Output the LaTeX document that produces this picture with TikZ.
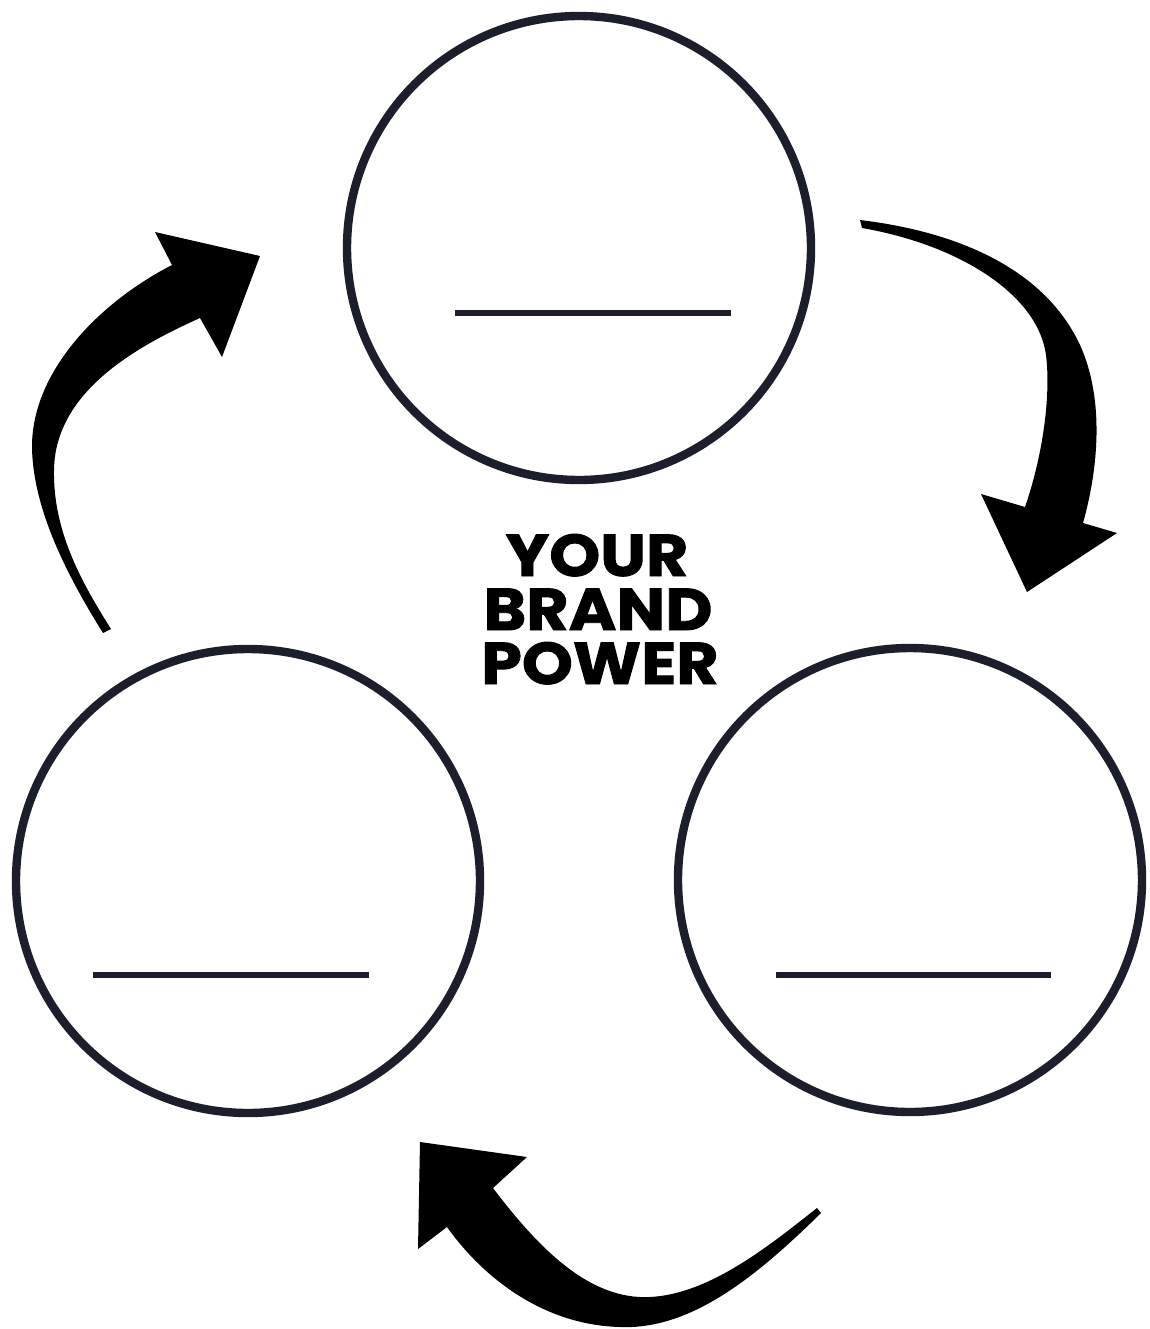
\documentclass[tikz,border=0pt]{standalone}
\usepackage{fontspec}
\newfontfamily\brandfont{Poppins}[UprightFont=* Bold,FakeStretch=1.1,FakeBold=1.5]
\definecolor{ring}{HTML}{1C1E2C}
\begin{document}
\begin{tikzpicture}[x=0.5pt,y=-0.5pt,
  ringnode/.style={circle,draw=ring,line width=4.2pt,minimum size=232pt,inner sep=0pt},
  blank/.style={draw=ring,line width=3pt},
  titleline/.style={font=\brandfont\fontsize{29.5pt}{29.5pt}\selectfont,inner sep=0pt,anchor=base,text height=20pt,text depth=0pt},
  bigarrow/.style={fill=black,draw=none}]
\useasboundingbox (0,0) rectangle (1150,1329);
\fill[white] (0,0) rectangle (1150,1329);
% circles
\node[ringnode] (top) at (579,248) {};
\node[ringnode] (left) at (248,881) {};
\node[ringnode] (right) at (910,880) {};
% blank lines
\draw[blank] (455,313) coordinate (ta) -- (731,313) coordinate (tb);
\draw[blank] (93,975) coordinate (la) -- (369,975) coordinate (lb);
\draw[blank] (776,975) coordinate (ra) -- (1051,975) coordinate (rb);
% centre text
\node[titleline] (title1) at (597,576) {YOUR};
\node[titleline] (title2) at (598,630) {BRAND};
\node[titleline] (title3) at (600,684) {POWER};
% left arrow (up towards top circle)
\fill[bigarrow] (103,633) .. controls (70,580) and (32,510) .. (32,445)
  .. controls (33,370) and (100,302) .. (172,265)
  -- (155,232) -- (260,256) -- (222,357) -- (200,318)
  .. controls (140,345) and (55,390) .. (54,470)
  .. controls (53,530) and (80,580) .. (111,629) -- cycle;
% right arrow (down towards right circle)
\fill[bigarrow] (860,220) .. controls (960,232) and (1045,270) .. (1080,345)
  .. controls (1105,400) and (1098,470) .. (1083,523)
  -- (1117,533) -- (1027,592) -- (981,494) -- (1025,507)
  .. controls (1043,455) and (1051,395) .. (1046,355)
  .. controls (1038,295) and (960,245) .. (862,228) -- cycle;
% bottom arrow (left towards left circle)
\fill[bigarrow] (821,1213) .. controls (755,1278) and (690,1330) .. (620,1327)
  .. controls (545,1325) and (485,1280) .. (447,1227)
  -- (418,1249) -- (420,1142) -- (527,1157) -- (493,1188)
  .. controls (540,1250) and (590,1300) .. (650,1297)
  .. controls (710,1294) and (770,1245) .. (817,1208) -- cycle;
\end{tikzpicture}
\end{document}
